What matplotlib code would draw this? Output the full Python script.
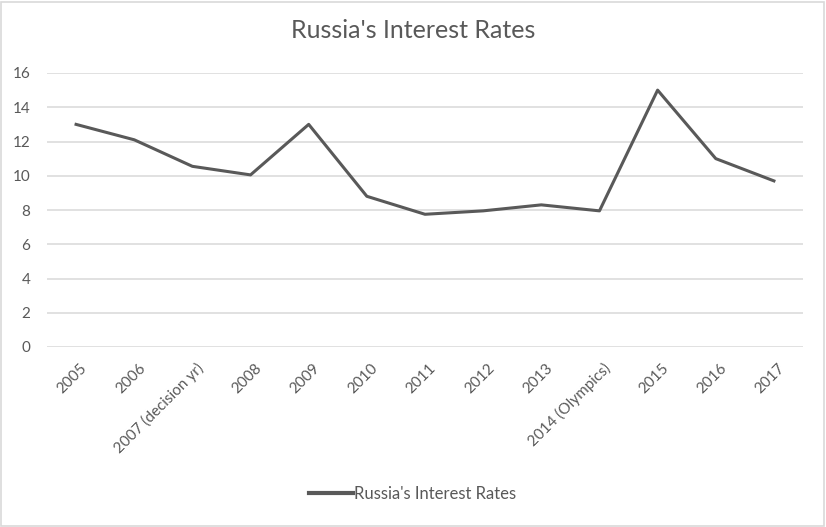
import matplotlib.pyplot as plt
import matplotlib.transforms as mtransforms
from matplotlib.patches import Rectangle

# datos
anios = ['2005', '2006', '2007 (decision yr)', '2008', '2009', '2010', '2011',
         '2012', '2013', '2014 (Olympics)', '2015', '2016', '2017']
tasas = [13.0, 12.1, 10.55, 10.05, 13.0, 8.8, 7.75, 7.95, 8.3, 7.95, 15.0, 11.0, 9.7]

gris = '#595959'

plt.rcParams['font.family'] = ['Lato', 'DejaVu Sans']

fig = plt.figure(figsize=(8.26, 5.27), dpi=100)
ax = fig.add_axes([47 / 826, 1 - 347 / 527, 756 / 826, 274 / 527])

x = list(range(len(anios)))
ax.plot(x, tasas, color=gris, linewidth=2.2, label="Russia's Interest Rates",
        solid_joinstyle='round', zorder=3)

ax.set_xlim(-0.5, len(anios) - 0.5)
ax.set_ylim(0, 16)
ax.set_yticks(range(0, 17, 2))
ax.grid(axis='y', color='#d9d9d9', linewidth=1.1)
ax.set_axisbelow(True)
for s in ax.spines.values():
    s.set_visible(False)

ax.set_xticks(x)
ax.set_xticklabels(anios, rotation=45, ha='right', rotation_mode='anchor')
ax.tick_params(axis='both', length=0, colors=gris, labelsize=11)
ax.tick_params(axis='y', pad=12)
ax.tick_params(axis='x', pad=10)

# mover etiquetas del eje x un poco a la derecha
desplazar = mtransforms.ScaledTranslation(4 / 100, 0, fig.dpi_scale_trans)
for etiqueta in ax.get_xticklabels():
    etiqueta.set_transform(etiqueta.get_transform() + desplazar)

fig.text(0.5, 1 - 31 / 527, "Russia's Interest Rates", ha='center', va='center',
         fontsize=18, color=gris)

fig.legend(loc='center', bbox_to_anchor=(0.5, 1 - 494 / 527), frameon=False,
           fontsize=12, labelcolor=gris, handlelength=2.6, handletextpad=0.1)
for linea in fig.legends[0].get_lines():
    linea.set_linewidth(3)

# borde del grafico
fig.patches.append(Rectangle((0.001, 0.001), 0.997, 0.996, transform=fig.transFigure,
                             fill=False, edgecolor='#d9d9d9', linewidth=1.2))

plt.savefig('out.png', dpi=100)
